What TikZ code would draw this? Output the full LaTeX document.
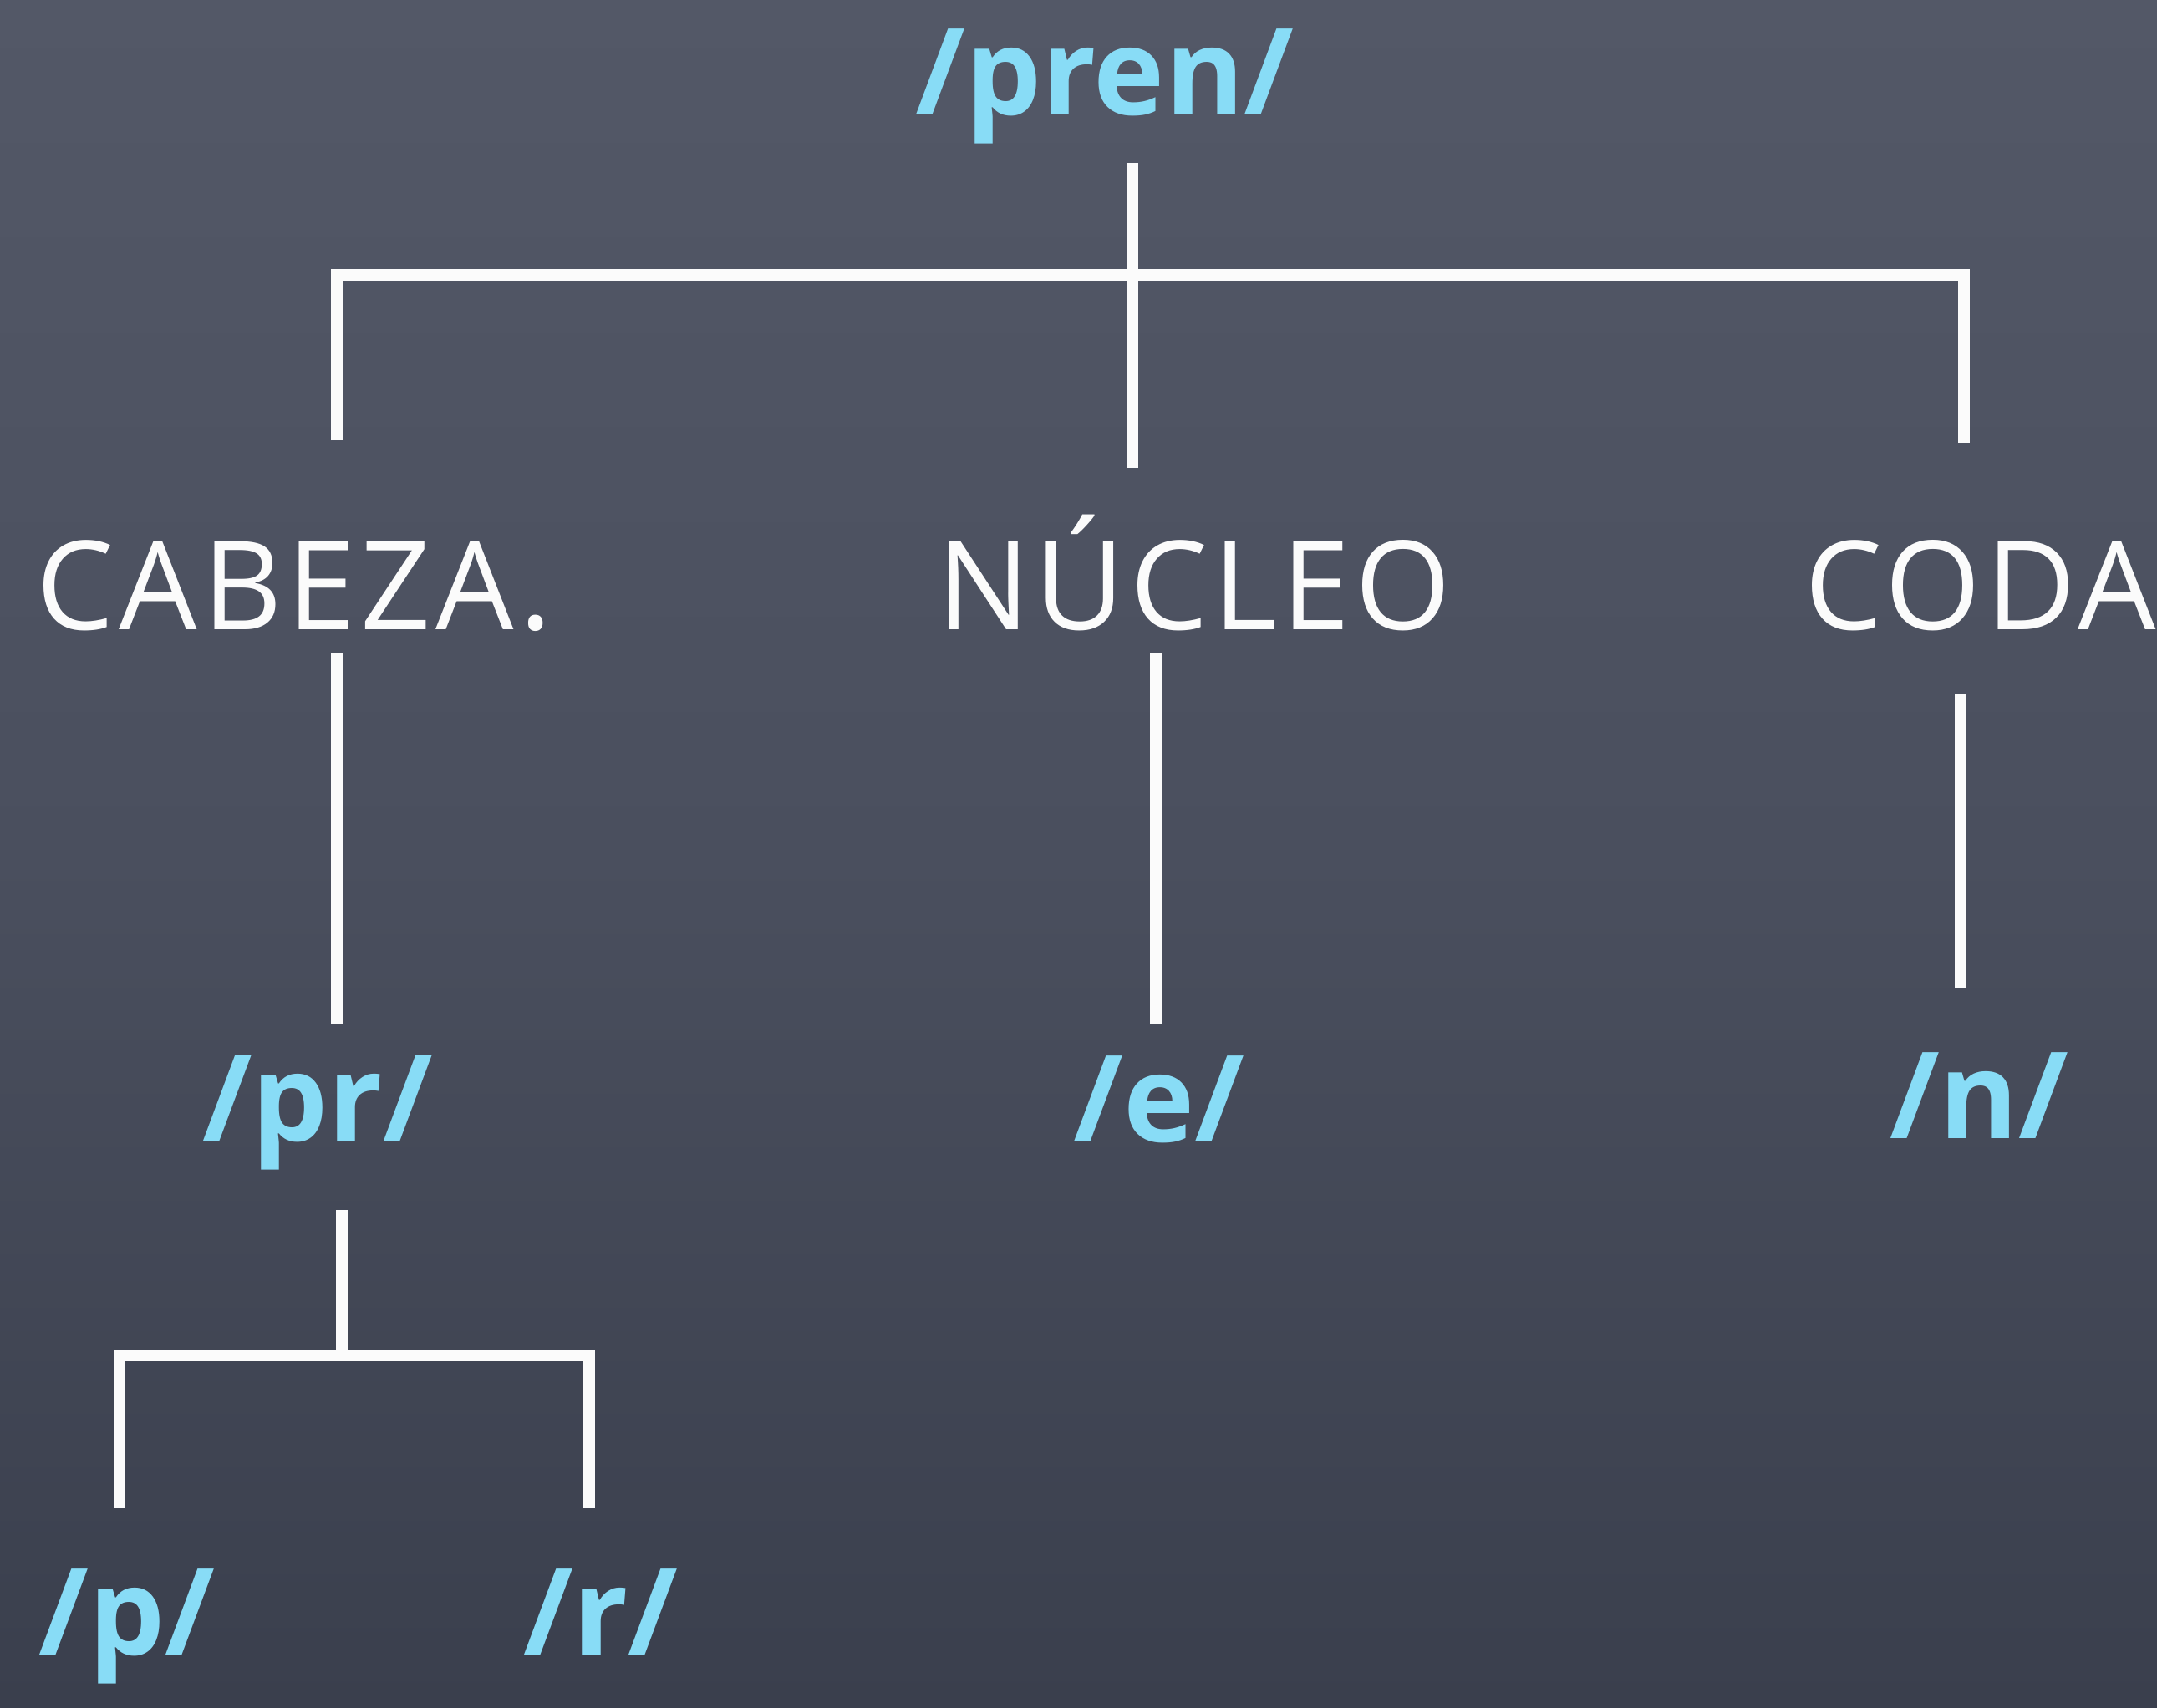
\documentclass[tikz,border=0pt]{standalone}
\usepackage{fontspec}
\setmainfont{Open Sans}
\definecolor{chalkblue}{HTML}{88DCF6}
\definecolor{chalkwhite}{HTML}{FBFBFB}
\definecolor{boardtop}{HTML}{535867}
\definecolor{boardbot}{HTML}{3A3F4D}
\definecolor{boardmid}{HTML}{4A4F5E}
\begin{document}
\begin{tikzpicture}[
  phon/.style={text=chalkblue, font=\fontsize{41}{44}\selectfont\bfseries, anchor=base, inner sep=0pt},
  part/.style={text=chalkwhite, font=\fontsize{42}{46}\selectfont\addfontfeature{LetterSpace=4}, anchor=base, inner sep=0pt},
  chalk/.style={draw=chalkwhite, line width=4.2pt, line cap=butt, line join=miter}
]
\useasboundingbox (0,0) rectangle (25.81,-20.43);
\shade[top color=boardtop, bottom color=boardbot, middle color=boardmid] (0,0) rectangle (25.81,-20.43);

% texts
\node[phon] (pren) at (13.22,-1.37) {/pren/};
\node[part] (cab)  at (3.52,-7.53) {CABEZA.};
\node[part] (nuc)  at (14.29,-7.53) {NÚCLEO};
\node[part] (coda) at (23.70,-7.53) {CODA};
\node[phon] (pr)   at (3.80,-13.65) {/pr/};
\node[phon] (e)    at (13.87,-13.66) {/e/};
\node[phon] (n)    at (23.68,-13.62) {/n/};
\node[phon] (p)    at (1.52,-19.80) {/p/};
\node[phon] (r)    at (7.19,-19.80) {/r/};

% top bracket
\coordinate (t0) at (13.55,-1.95);
\coordinate (t1) at (13.55,-5.60);
\coordinate (bl) at (4.03,-3.29);
\coordinate (br) at (23.50,-3.29);
\coordinate (bl2) at (4.03,-5.27);
\coordinate (br2) at (23.50,-5.30);
\draw[chalk] (t0) -- (t1);
\draw[chalk] (bl2) -- (bl) -- (br) -- (br2);

% middle drops
\coordinate (c0) at (4.03,-7.82);
\coordinate (c1) at (4.03,-12.26);
\coordinate (n0) at (13.83,-7.82);
\coordinate (n1) at (13.83,-12.26);
\coordinate (d0) at (23.46,-8.31);
\coordinate (d1) at (23.46,-11.82);
\draw[chalk] (c0) -- (c1);
\draw[chalk] (n0) -- (n1);
\draw[chalk] (d0) -- (d1);

% bottom bracket
\coordinate (s0) at (4.09,-14.48);
\coordinate (s1) at (4.09,-16.22);
\coordinate (sl) at (1.43,-16.22);
\coordinate (sr) at (7.05,-16.22);
\coordinate (sl2) at (1.43,-18.05);
\coordinate (sr2) at (7.05,-18.05);
\draw[chalk] (s0) -- (s1);
\draw[chalk] (sl2) -- (sl) -- (sr) -- (sr2);
\end{tikzpicture}
\end{document}
